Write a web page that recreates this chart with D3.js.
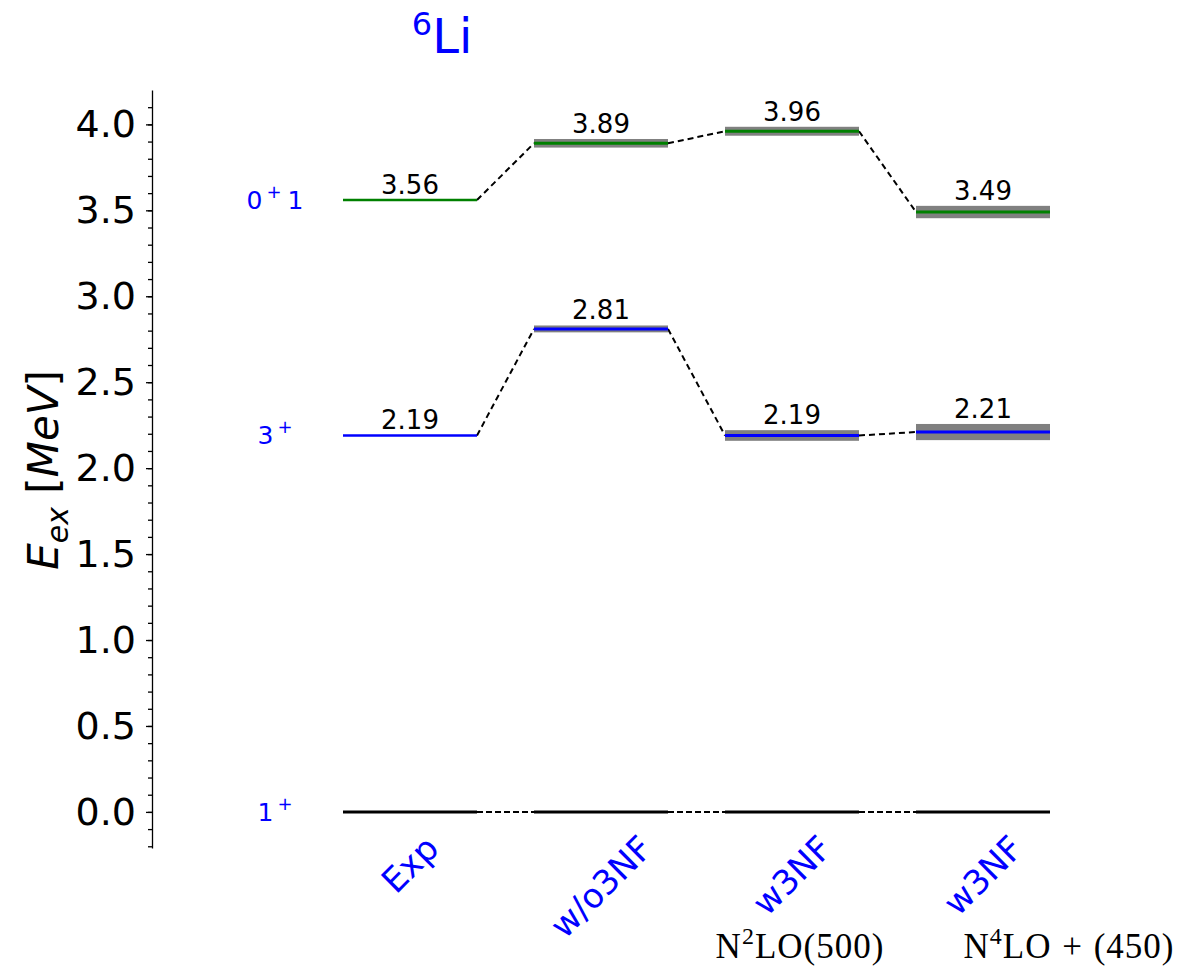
<!DOCTYPE html>
<html>
<head>
<meta charset="utf-8">
<script src="https://cdn.jsdelivr.net/npm/d3@7"></script>
<style>
  body { margin: 0; background: #fff; }
  svg { font-family: "DejaVu Sans", sans-serif; }
</style>
</head>
<body>
<script>
// level scheme data
const columns = ["Exp", "w/o3NF", "w3NF", "w3NF"];
const groundValues = [0, 0, 0, 0];
const threePlusValues = [2.19, 2.81, 2.19, 2.21];
const threePlusErr = [0, 0.02, 0.031, 0.047];
const zeroPlusValues = [3.56, 3.89, 3.96, 3.49];
const zeroPlusErr = [0, 0.025, 0.026, 0.036];
const stateNames = [["1", "+", ""], ["3", "+", ""], ["0", "+", "1"]];
const yMajorTicks = [0, 0.5, 1.0, 1.5, 2.0, 2.5, 3.0, 3.5, 4.0];
const yMinorTicks = d3.range(-2, 42).map(d => d / 10);
const interactions = [["N", "2", "LO(500)"], ["N", "4", "LO + (450)"]];

const w = 1182, h = 973;

const svg = d3.select("body").append("svg")
    .attr("width", w)
    .attr("height", h);

const x = d3.scaleBand()
    .domain(d3.range(columns.length))
    .range([343, 1050])
    .paddingInner(0.2984)
    .paddingOuter(0);

const y = d3.scaleLinear()
    .domain([-0.21, 4.2])
    .range([848, 90]);

// y axis, minor ticks first then major
svg.append("g")
    .attr("transform", "translate(152,0)")
    .call(d3.axisLeft(y).tickValues(yMinorTicks).tickSize(4).tickSizeOuter(0).tickFormat(""))
    .call(g => g.selectAll("line").attr("stroke-width", 1.3))
    .call(g => g.select(".domain").attr("stroke-width", 1.3));

svg.append("g")
    .attr("transform", "translate(152,0)")
    .call(d3.axisLeft(y).tickValues(yMajorTicks).tickSize(6).tickPadding(10)
        .tickSizeOuter(0).tickFormat(d3.format(".1f")))
    .call(g => g.select(".domain").remove())
    .call(g => g.selectAll("line").attr("stroke-width", 1.3))
    .call(g => g.selectAll("text")
        .attr("font-size", 38)
        .attr("font-family", "DejaVu Sans")
        .attr("fill", "#000"));

// y label
const ylab = svg.append("text")
    .attr("transform", "translate(58,470) rotate(-90)")
    .attr("text-anchor", "middle")
    .attr("font-size", 42);
ylab.append("tspan").attr("font-style", "italic").text("E");
ylab.append("tspan").attr("font-style", "italic").attr("font-size", 30).attr("dy", 10).text("ex");
ylab.append("tspan").attr("dy", -10).text(" [");
ylab.append("tspan").attr("font-style", "italic").text("MeV");
ylab.append("tspan").text("]");

// title
const title = svg.append("text")
    .attr("x", 442)
    .attr("y", 53)
    .attr("text-anchor", "middle")
    .attr("fill", "#0000ff");
title.append("tspan").attr("font-size", 32).attr("dy", -18).text("6");
title.append("tspan").attr("font-size", 48).attr("dy", 18).text("Li");

// level sets
const levels = [
    {vals: groundValues, err: [0, 0, 0, 0], color: "#000", labels: false, dash: "6,3"},
    {vals: threePlusValues, err: threePlusErr, color: "#0000ff", labels: true, dash: "6,4"},
    {vals: zeroPlusValues, err: zeroPlusErr, color: "#008000", labels: true, dash: "6,4"}
];

levels.forEach(function(lv, k) {
    const g = svg.append("g");
    const idx = d3.range(lv.vals.length);

    // dashed connectors
    g.selectAll(".conn")
        .data(idx.slice(0, -1))
        .enter()
        .append("line")
        .attr("x1", i => x(i) + x.bandwidth())
        .attr("y1", i => y(lv.vals[i]))
        .attr("x2", i => x(i + 1))
        .attr("y2", i => y(lv.vals[i + 1]))
        .attr("stroke", "#000")
        .attr("stroke-width", 2)
        .attr("stroke-dasharray", lv.dash);

    // uncertainty bands
    g.selectAll(".band")
        .data(idx.filter(i => lv.err[i] > 0))
        .enter()
        .append("rect")
        .attr("x", i => x(i))
        .attr("width", x.bandwidth())
        .attr("y", i => y(lv.vals[i] + lv.err[i]))
        .attr("height", i => y(lv.vals[i] - lv.err[i]) - y(lv.vals[i] + lv.err[i]))
        .attr("fill", "#808080");

    // level lines
    g.selectAll(".lvl")
        .data(idx)
        .enter()
        .append("line")
        .attr("x1", i => x(i))
        .attr("x2", i => x(i) + x.bandwidth())
        .attr("y1", i => y(lv.vals[i]))
        .attr("y2", i => y(lv.vals[i]))
        .attr("stroke", lv.color)
        .attr("stroke-width", k === 0 ? 3 : (i => i === 0 ? 2.5 : 3));

    // value labels
    if (lv.labels) {
        g.selectAll(".val")
            .data(idx)
            .enter()
            .append("text")
            .attr("x", i => x(i) + x.bandwidth() / 2)
            .attr("y", i => y(lv.vals[i] + lv.err[i]) - 6)
            .attr("text-anchor", "middle")
            .attr("font-size", 26)
            .text(i => lv.vals[i].toFixed(2));
    }

    // state name on the left
    const nm = stateNames[k];
    const t = svg.append("text")
        .attr("x", 275)
        .attr("y", y(lv.vals[0]) + 9)
        .attr("text-anchor", "middle")
        .attr("fill", "#0000ff")
        .attr("font-size", 25);
    t.append("tspan").text(nm[0]);
    t.append("tspan").attr("font-size", 18).attr("dx", 4).attr("dy", -11).text(nm[1]);
    if (nm[2]) t.append("tspan").attr("dx", 6).attr("dy", 11).text(nm[2]);
});

// rotated column labels
const xFont = 34;
const xl = svg.selectAll(".xlab")
    .data(columns)
    .enter()
    .append("text")
    .attr("class", "xlab")
    .attr("font-size", xFont)
    .attr("fill", "#0000ff")
    .attr("text-anchor", "middle")
    .attr("dy", "0.35em")
    .text(d => d);

xl.attr("transform", function(d, i) {
    const L = this.getComputedTextLength();
    const H = xFont * 1.0;
    const cy = 830 + (L + H) / (2 * Math.SQRT2);
    return "translate(" + (x(i) + x.bandwidth() / 2) + "," + cy + ") rotate(-45)";
});

// interaction labels under the w3NF columns
const inter = svg.selectAll(".inter")
    .data(interactions)
    .enter()
    .append("text")
    .attr("x", (d, i) => x(i + 2) + x.bandwidth() / 2 + (i === 0 ? 8 : 86))
    .attr("y", 958)
    .attr("text-anchor", "middle")
    .attr("font-family", "Liberation Serif")
    .attr("font-size", 35)
    .attr("letter-spacing", 1)
    .attr("word-spacing", 1)
    .attr("fill", "#000");
inter.append("tspan").text(d => d[0]);
inter.append("tspan").attr("font-size", 24).attr("dy", -14).text(d => d[1]);
inter.append("tspan").attr("dy", 14).text(d => d[2]);
</script>
</body>
</html>
